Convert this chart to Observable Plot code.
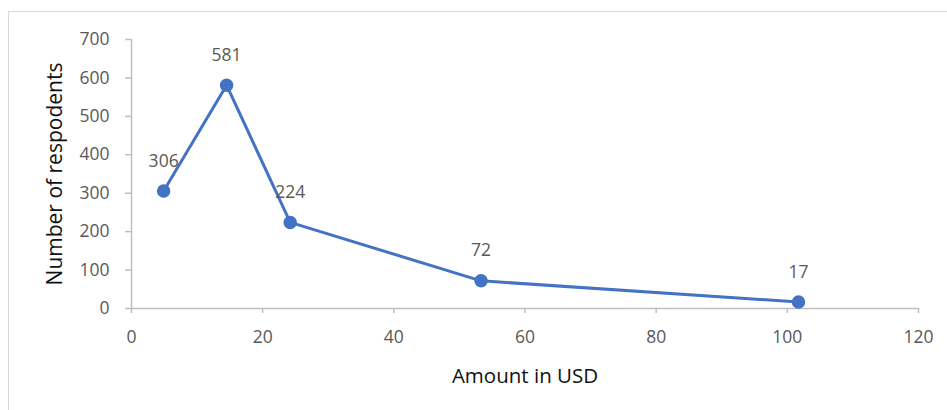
<!DOCTYPE html>
<html>
<head>
<meta charset="utf-8">
<script src="https://cdn.jsdelivr.net/npm/d3@7"></script>
<script src="https://cdn.jsdelivr.net/npm/@observablehq/plot@0.6"></script>
<style>
  html, body { margin: 0; padding: 0; background: #fff; overflow: hidden; }
  #frame { position: absolute; left: 8px; top: 11px; width: 1000px; height: 500px; border: 1.5px solid #d9d9d9; }
  #chart { position: absolute; left: 0; top: 0; }
</style>
</head>
<body>
<div id="frame"></div>
<div id="chart"></div>
<script>
const amounts = [4.9, 14.5, 24.2, 53.3, 101.7];
const respondents = [306, 581, 224, 72, 17];
const xTicks = [0, 20, 40, 60, 80, 100, 120];
const yTicks = [0, 100, 200, 300, 400, 500, 600, 700];

const data = amounts.map((a, i) => ({amount: a, n: respondents[i]}));
const blue = "#4472C4";
const axisGray = "#bfbfbf";
const font = "'Open Sans', 'Noto Sans', sans-serif";

const plot = Plot.plot({
  width: 947,
  height: 410,
  marginLeft: 131,
  marginRight: 29,
  marginTop: 39,
  marginBottom: 102,
  style: {fontFamily: font, background: "transparent"},
  x: {domain: [0, 120]},
  y: {domain: [0, 700]},
  marks: [
    Plot.axisX({ticks: xTicks, tickSize: 5, tickPadding: 17, stroke: axisGray, strokeWidth: 1.5,
      fill: "#595959", fontSize: 17.5, label: null}),
    Plot.axisY({ticks: yTicks, tickSize: 6, tickPadding: 16, stroke: axisGray, strokeWidth: 1.5,
      fill: "#595959", fontSize: 17.5, label: null}),
    Plot.ruleY([0], {stroke: axisGray, strokeWidth: 1.5}),
    Plot.ruleX([0], {stroke: axisGray, strokeWidth: 1.5}),
    Plot.line(data, {x: "amount", y: "n", stroke: blue, strokeWidth: 3}),
    Plot.dot(data, {x: "amount", y: "n", r: 6, fill: blue, stroke: blue}),
    Plot.text(data, {x: "amount", y: "n", text: d => String(d.n), dy: -30,
      fill: "#595959", fontSize: 17.5}),
    Plot.text(["Amount in USD"], {frameAnchor: "bottom", dy: 74, fill: "#111", fontSize: 20.5,
      text: d => d}),
    Plot.text(["Number of respodents"], {frameAnchor: "left", textAnchor: "middle", dx: -76, rotate: -90,
      fill: "#111", fontSize: 21, text: d => d})
  ]
});
document.getElementById("chart").appendChild(plot);
</script>
</body>
</html>
